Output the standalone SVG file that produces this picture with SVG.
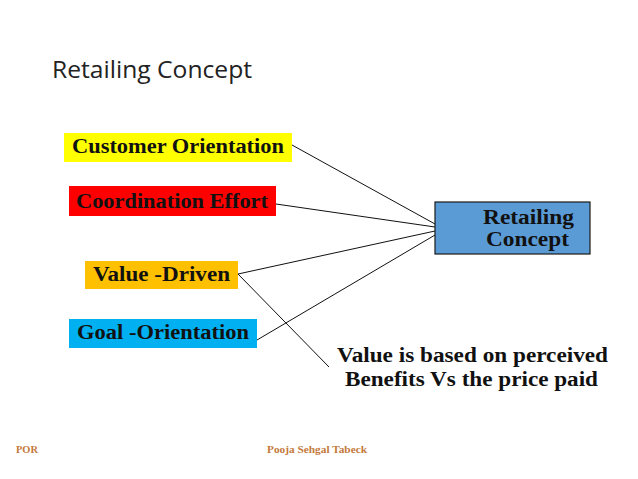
<svg xmlns="http://www.w3.org/2000/svg" width="638" height="479" viewBox="0 0 638 479">
<style>
.lbl{font-family:"Liberation Serif","DejaVu Serif",serif;font-weight:bold;font-size:20px;fill:#111}
.ttl{font-family:"Open Sans","Liberation Sans",sans-serif;font-size:23px;fill:#222}
.ft{font-family:"Liberation Serif",serif;font-weight:bold;font-size:11px;fill:#C47A3C}
.ln{stroke:#111;stroke-width:1;fill:none}
</style>
<rect width="638" height="479" fill="#fff"/>
<text class="ttl" x="52" y="78" textLength="200" lengthAdjust="spacingAndGlyphs">Retailing Concept</text>
<g id="connectors">
<line class="ln" x1="292" y1="145" x2="435" y2="224"/>
<line class="ln" x1="276" y1="204" x2="435" y2="227"/>
<line class="ln" x1="238" y1="274" x2="435" y2="231"/>
<line class="ln" x1="257" y1="340" x2="435" y2="235"/>
<line class="ln" x1="238" y1="274" x2="329" y2="367"/>
</g>
<g id="customer-orientation">
<rect x="64" y="133" width="228" height="29" fill="#FFFF00"/>
<text class="lbl" x="72" y="153" textLength="212" lengthAdjust="spacingAndGlyphs">Customer Orientation</text>
</g>
<g id="coordination-effort">
<rect x="69" y="186" width="207" height="30" fill="#FF0000"/>
<text class="lbl" x="76" y="208" textLength="192" lengthAdjust="spacingAndGlyphs" fill="#200000">Coordination Effort</text>
</g>
<g id="value-driven">
<rect x="85" y="261" width="153" height="28" fill="#FFC000"/>
<text class="lbl" x="93" y="281" textLength="137" lengthAdjust="spacingAndGlyphs">Value -Driven</text>
</g>
<g id="goal-orientation">
<rect x="69" y="319" width="188" height="29" fill="#00B0F0"/>
<text class="lbl" x="77" y="339" textLength="172" lengthAdjust="spacingAndGlyphs">Goal -Orientation</text>
</g>
<g id="retailing-concept">
<rect x="435" y="202" width="155" height="52" fill="#5B9BD5" stroke="#1a1a1a" stroke-width="1.2"/>
<text class="lbl" x="483" y="224" textLength="91" lengthAdjust="spacingAndGlyphs">Retailing</text>
<text class="lbl" x="486" y="246" textLength="83" lengthAdjust="spacingAndGlyphs">Concept</text>
</g>
<g id="value-note">
<text class="lbl" x="337" y="362" textLength="271" lengthAdjust="spacingAndGlyphs">Value is based on perceived</text>
<text class="lbl" x="345" y="386" textLength="253" lengthAdjust="spacingAndGlyphs">Benefits Vs the price paid</text>
</g>
<text class="ft" x="16" y="453" textLength="22" lengthAdjust="spacingAndGlyphs">POR</text>
<text class="ft" x="267" y="453" textLength="100" lengthAdjust="spacingAndGlyphs">Pooja Sehgal Tabeck</text>
</svg>
